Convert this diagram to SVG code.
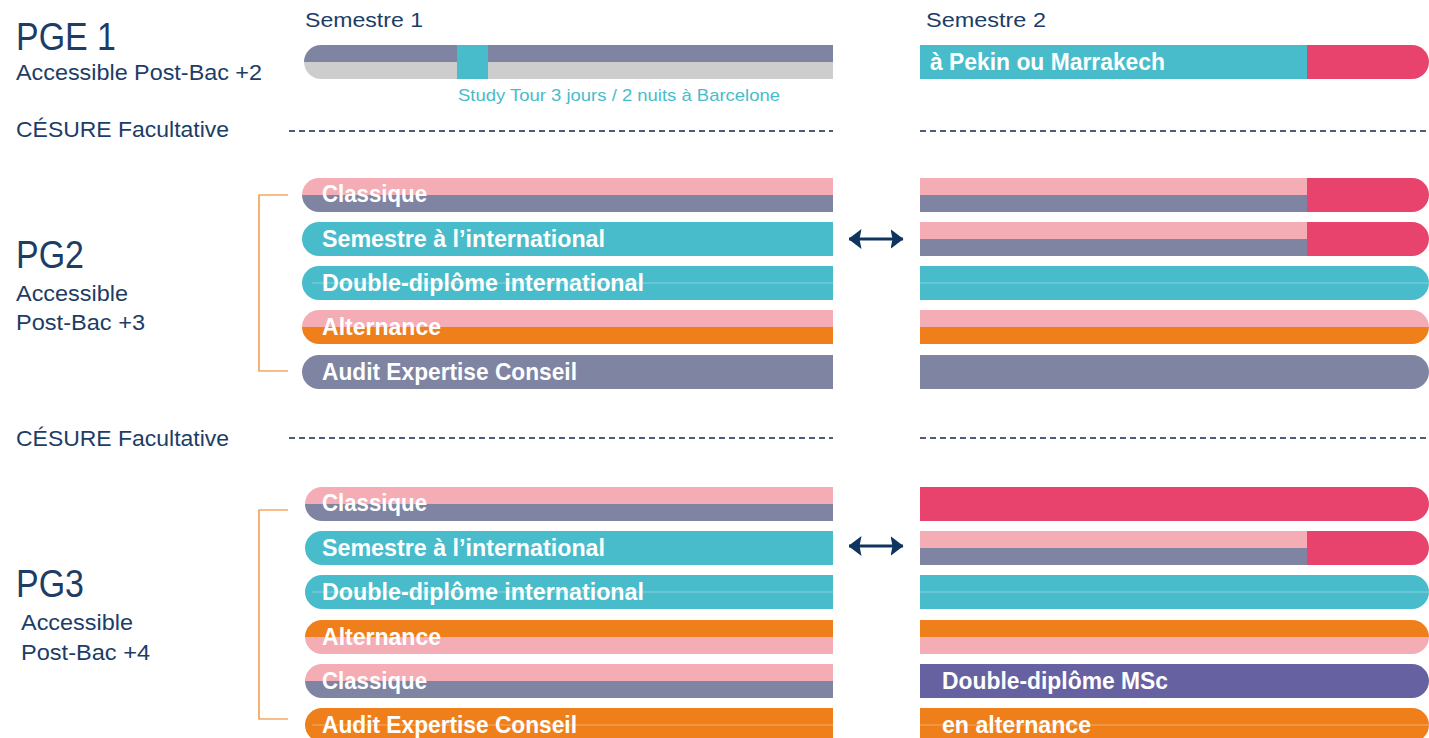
<svg xmlns="http://www.w3.org/2000/svg" xmlns:xlink="http://www.w3.org/1999/xlink" width="1429" height="738" viewBox="0 0 1429 738">
<style>
.lbl{font-family:"Liberation Sans",Arial,sans-serif;fill:#1d3d66}
.big{font-size:39px}
.sub{font-size:22px}
.bt{font-family:"Liberation Sans",Arial,sans-serif;font-weight:bold;font-size:23px;fill:#ffffff}
.pink{fill:#f5adb5}
.grey{fill:#7e84a2}
.teal{fill:#48bccb}
.orange{fill:#ef7f1a}
.red{fill:#e8436d}
.purple{fill:#6662a2}
.lgrey{fill:#cdcdcd}
.mid{stroke:#ffffff;stroke-opacity:0.35;stroke-width:1}
.dash{stroke:#4d5a7c;stroke-width:2;stroke-dasharray:6 4;fill:none}
.br{stroke:#ef7f1a;stroke-width:1.2;fill:none}
.arr{stroke:#0f3460;stroke-width:3}
</style>
<defs>
<path id="L2full" d="M319,0 H833 V34 H319 A17,17 0 0 1 319,0 Z"/>
<path id="L2top" d="M319,0 H833 V17 H302 A17,17 0 0 1 319,0 Z"/>
<path id="L2bot" d="M302,17 H833 V34 H319 A17,17 0 0 1 302,17 Z"/>
<path id="L3full" d="M322,0 H833 V34 H322 A17,17 0 0 1 322,0 Z"/>
<path id="L3top" d="M322,0 H833 V17 H305 A17,17 0 0 1 322,0 Z"/>
<path id="L3bot" d="M305,17 H833 V34 H322 A17,17 0 0 1 305,17 Z"/>
<path id="Rfull" d="M920,0 H1412 A17,17 0 0 1 1412,34 H920 Z"/>
<path id="Rtop" d="M920,0 H1412 A17,17 0 0 1 1429,17 H920 Z"/>
<path id="Rbot" d="M920,17 H1429 A17,17 0 0 1 1412,34 H920 Z"/>
<rect id="RsplitT" x="920" y="0" width="387" height="17"/>
<rect id="RsplitB" x="920" y="17" width="387" height="17"/>
<path id="Rend" d="M1307,0 H1412 A17,17 0 0 1 1412,34 H1307 Z"/>
<marker id="ah" viewBox="0 0 13 20" refX="12.5" refY="10" markerWidth="13" markerHeight="20" markerUnits="userSpaceOnUse" orient="auto-start-reverse">
<path d="M0,0 L13,10 L0,20 L2,10 Z" fill="#0f3460"/>
</marker>
</defs>

<g id="headers">
<text class="lbl" x="305" y="27" font-size="21" textLength="118" lengthAdjust="spacingAndGlyphs">Semestre 1</text>
<text class="lbl" x="926" y="27" font-size="21" textLength="120" lengthAdjust="spacingAndGlyphs">Semestre 2</text>
</g>

<g id="pge1-label">
<text class="lbl big" x="16" y="50" textLength="100" lengthAdjust="spacingAndGlyphs">PGE 1</text>
<text class="lbl sub" x="16" y="80" textLength="246" lengthAdjust="spacingAndGlyphs">Accessible Post-Bac +2</text>
</g>

<g id="pge1-s1">
<path class="grey" d="M321,45 H833 V62 H304 A17,17 0 0 1 321,45 Z"/>
<path class="lgrey" d="M304,62 H833 V79 H321 A17,17 0 0 1 304,62 Z"/>
<rect class="teal" x="457" y="45" width="31" height="34"/>
<text x="458" y="101" font-family="Liberation Sans, Arial, sans-serif" font-size="17" fill="#48bccb" textLength="322" lengthAdjust="spacingAndGlyphs">Study Tour 3 jours / 2 nuits à Barcelone</text>
</g>

<g id="pge1-s2" transform="translate(0,45)">
<rect class="teal" x="920" y="0" width="387" height="34"/>
<use href="#Rend" class="red"/>
<text class="bt" x="930" y="25" textLength="235" lengthAdjust="spacingAndGlyphs">à Pekin ou Marrakech</text>
</g>

<g id="cesure1">
<text class="lbl sub" x="16" y="137" textLength="213" lengthAdjust="spacingAndGlyphs">CÉSURE Facultative</text>
<line class="dash" x1="289" y1="131" x2="833" y2="131"/>
<line class="dash" x1="920" y1="131" x2="1429" y2="131"/>
</g>

<g id="pg2-label">
<text class="lbl big" x="16" y="268" textLength="68" lengthAdjust="spacingAndGlyphs">PG2</text>
<text class="lbl sub" x="16" y="301" textLength="112" lengthAdjust="spacingAndGlyphs">Accessible</text>
<text class="lbl sub" x="16" y="330" textLength="129" lengthAdjust="spacingAndGlyphs">Post-Bac +3</text>
<polyline class="br" points="288,195 259,195 259,371 288,371"/>
</g>

<g id="pg2-r1" transform="translate(0,178)">
<use href="#L2top" class="pink"/><use href="#L2bot" class="grey"/>
<text class="bt" x="322" y="24" textLength="105" lengthAdjust="spacingAndGlyphs">Classique</text>
<use href="#RsplitT" class="pink"/><use href="#RsplitB" class="grey"/><use href="#Rend" class="red"/>
</g>
<g id="pg2-r2" transform="translate(0,222)">
<use href="#L2full" class="teal"/>
<text class="bt" x="322" y="25" textLength="283" lengthAdjust="spacingAndGlyphs">Semestre à l’international</text>
<use href="#RsplitT" class="pink"/><use href="#RsplitB" class="grey"/><use href="#Rend" class="red"/>
</g>
<g id="pg2-r3" transform="translate(0,266)">
<use href="#L2full" class="teal"/>
<text class="bt" x="322" y="25" textLength="322" lengthAdjust="spacingAndGlyphs">Double-diplôme international</text>
<line class="mid" x1="312" y1="17" x2="833" y2="17"/>
<use href="#Rfull" class="teal"/>
<line class="mid" x1="920" y1="17" x2="1429" y2="17"/>
</g>
<g id="pg2-r4" transform="translate(0,310)">
<use href="#L2top" class="pink"/><use href="#L2bot" class="orange"/>
<text class="bt" x="322" y="25" textLength="119" lengthAdjust="spacingAndGlyphs">Alternance</text>
<use href="#Rtop" class="pink"/><use href="#Rbot" class="orange"/>
</g>
<g id="pg2-r5" transform="translate(0,355)">
<use href="#L2full" class="grey"/>
<text class="bt" x="322" y="25" textLength="255" lengthAdjust="spacingAndGlyphs">Audit Expertise Conseil</text>
<use href="#Rfull" class="grey"/>
</g>

<g id="cesure2">
<text class="lbl sub" x="16" y="446" textLength="213" lengthAdjust="spacingAndGlyphs">CÉSURE Facultative</text>
<line class="dash" x1="289" y1="438" x2="833" y2="438"/>
<line class="dash" x1="920" y1="438" x2="1429" y2="438"/>
</g>

<g id="pg3-label">
<text class="lbl big" x="16" y="597" textLength="68" lengthAdjust="spacingAndGlyphs">PG3</text>
<text class="lbl sub" x="21" y="630" textLength="112" lengthAdjust="spacingAndGlyphs">Accessible</text>
<text class="lbl sub" x="21" y="660" textLength="129" lengthAdjust="spacingAndGlyphs">Post-Bac +4</text>
<polyline class="br" points="288,510 259,510 259,719 288,719"/>
</g>

<g id="pg3-r1" transform="translate(0,487)">
<use href="#L3top" class="pink"/><use href="#L3bot" class="grey"/>
<text class="bt" x="322" y="24" textLength="105" lengthAdjust="spacingAndGlyphs">Classique</text>
<use href="#Rfull" class="red"/>
</g>
<g id="pg3-r2" transform="translate(0,531)">
<use href="#L3full" class="teal"/>
<text class="bt" x="322" y="25" textLength="283" lengthAdjust="spacingAndGlyphs">Semestre à l’international</text>
<use href="#RsplitT" class="pink"/><use href="#RsplitB" class="grey"/><use href="#Rend" class="red"/>
</g>
<g id="pg3-r3" transform="translate(0,575)">
<use href="#L3full" class="teal"/>
<text class="bt" x="322" y="25" textLength="322" lengthAdjust="spacingAndGlyphs">Double-diplôme international</text>
<line class="mid" x1="312" y1="17" x2="833" y2="17"/>
<use href="#Rfull" class="teal"/>
<line class="mid" x1="920" y1="17" x2="1429" y2="17"/>
</g>
<g id="pg3-r4" transform="translate(0,620)">
<use href="#L3top" class="orange"/><use href="#L3bot" class="pink"/>
<text class="bt" x="322" y="25" textLength="119" lengthAdjust="spacingAndGlyphs">Alternance</text>
<use href="#Rtop" class="orange"/><use href="#Rbot" class="pink"/>
</g>
<g id="pg3-r5" transform="translate(0,664)">
<use href="#L3top" class="pink"/><use href="#L3bot" class="grey"/>
<text class="bt" x="322" y="25" textLength="105" lengthAdjust="spacingAndGlyphs">Classique</text>
<use href="#Rfull" class="purple"/>
<text class="bt" x="942" y="25" textLength="226" lengthAdjust="spacingAndGlyphs">Double-diplôme MSc</text>
</g>
<g id="pg3-r6" transform="translate(0,708)">
<use href="#L3full" class="orange"/>
<text class="bt" x="322" y="25" textLength="255" lengthAdjust="spacingAndGlyphs">Audit Expertise Conseil</text>
<line class="mid" x1="312" y1="17" x2="833" y2="17"/>
<use href="#Rfull" class="orange"/>
<text class="bt" x="942" y="25" textLength="149" lengthAdjust="spacingAndGlyphs">en alternance</text>
<line class="mid" x1="920" y1="17" x2="1429" y2="17"/>
</g>

<g id="connectors">
<line class="arr" x1="849" y1="239" x2="903" y2="239" marker-start="url(#ah)" marker-end="url(#ah)"/>
<line class="arr" x1="849" y1="546" x2="903" y2="546" marker-start="url(#ah)" marker-end="url(#ah)"/>
</g>
</svg>
